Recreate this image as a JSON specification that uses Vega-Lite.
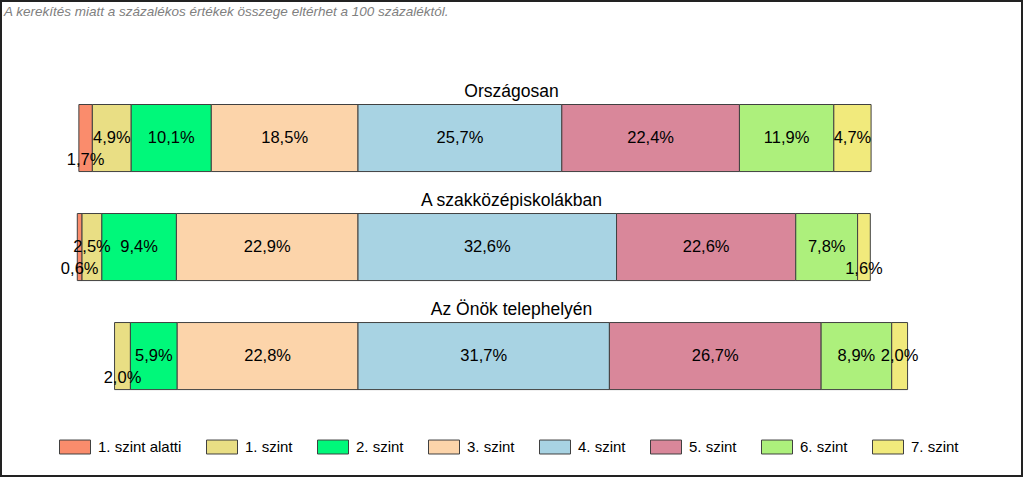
{
  "$schema": "https://vega.github.io/schema/vega-lite/v6.json",
  "width": 1021,
  "height": 475,
  "autosize": {"type": "none"},
  "padding": {"left": 1, "top": 1, "right": 2, "bottom": 2},
  "background": "white",
  "title": {
    "text": "A kerekítés miatt a  százalékos értékek összege eltérhet a 100 százaléktól.",
    "anchor": "start",
    "frame": "group",
    "orient": "top",
    "offset": -28,
    "dx": 3,
    "baseline": "alphabetic",
    "font": "Liberation Sans",
    "fontStyle": "italic",
    "fontWeight": "normal",
    "fontSize": 13.5,
    "color": "#808080"
  },
  "config": {
    "locale": {"number": {"decimal": ",", "thousands": " ", "grouping": [3], "currency": ["", " Ft"]}},
    "view": {"stroke": "#222222", "strokeWidth": 2},
    "font": "Liberation Sans"
  },
  "data": {
    "values": [
      {"g": "Országosan", "level": "1. szint alatti", "k": 0, "v": 0.017},
      {"g": "Országosan", "level": "1. szint", "k": 1, "v": 0.049},
      {"g": "Országosan", "level": "2. szint", "k": 2, "v": 0.101},
      {"g": "Országosan", "level": "3. szint", "k": 3, "v": 0.185},
      {"g": "Országosan", "level": "4. szint", "k": 4, "v": 0.257},
      {"g": "Országosan", "level": "5. szint", "k": 5, "v": 0.224},
      {"g": "Országosan", "level": "6. szint", "k": 6, "v": 0.119},
      {"g": "Országosan", "level": "7. szint", "k": 7, "v": 0.047},
      {"g": "A szakközépiskolákban", "level": "1. szint alatti", "k": 0, "v": 0.006},
      {"g": "A szakközépiskolákban", "level": "1. szint", "k": 1, "v": 0.025},
      {"g": "A szakközépiskolákban", "level": "2. szint", "k": 2, "v": 0.094},
      {"g": "A szakközépiskolákban", "level": "3. szint", "k": 3, "v": 0.229},
      {"g": "A szakközépiskolákban", "level": "4. szint", "k": 4, "v": 0.326},
      {"g": "A szakközépiskolákban", "level": "5. szint", "k": 5, "v": 0.226},
      {"g": "A szakközépiskolákban", "level": "6. szint", "k": 6, "v": 0.078},
      {"g": "A szakközépiskolákban", "level": "7. szint", "k": 7, "v": 0.016},
      {"g": "Az Önök telephelyén", "level": "1. szint", "k": 1, "v": 0.020},
      {"g": "Az Önök telephelyén", "level": "2. szint", "k": 2, "v": 0.059},
      {"g": "Az Önök telephelyén", "level": "3. szint", "k": 3, "v": 0.228},
      {"g": "Az Önök telephelyén", "level": "4. szint", "k": 4, "v": 0.317},
      {"g": "Az Önök telephelyén", "level": "5. szint", "k": 5, "v": 0.267},
      {"g": "Az Önök telephelyén", "level": "6. szint", "k": 6, "v": 0.089},
      {"g": "Az Önök telephelyén", "level": "7. szint", "k": 7, "v": 0.020}
    ]
  },
  "transform": [
    {"stack": "v", "groupby": ["g"], "sort": [{"field": "k", "order": "ascending"}], "as": ["s0", "s1"]},
    {"calculate": "datum.k <= 3 ? datum.v : 0", "as": "leftpart"},
    {"joinaggregate": [{"op": "sum", "field": "leftpart", "as": "L"}], "groupby": ["g"]},
    {"calculate": "datum.s0 - datum.L", "as": "xs"},
    {"calculate": "datum.s1 - datum.L", "as": "xe"},
    {"calculate": "(datum.xs + datum.xe) / 2", "as": "xm"}
  ],
  "encoding": {
    "y": {
      "field": "g",
      "type": "nominal",
      "axis": null,
      "scale": {
        "domain": ["Országosan", "A szakközépiskolákban", "Az Önök telephelyén"],
        "paddingInner": 0.385,
        "paddingOuter": 0.871,
        "align": 0.545
      }
    }
  },
  "layer": [
    {
      "mark": {"type": "bar", "stroke": "#404040", "strokeWidth": 1, "opacity": 1},
      "encoding": {
        "x": {"field": "xs", "type": "quantitative", "axis": null, "scale": {"domain": [-0.4502, 0.8373], "nice": false, "zero": false}},
        "x2": {"field": "xe"},
        "fill": {
          "field": "level",
          "type": "nominal",
          "scale": {
            "domain": ["1. szint alatti", "1. szint", "2. szint", "3. szint", "4. szint", "5. szint", "6. szint", "7. szint"],
            "range": ["#FA8C6C", "#E9DE84", "#00F87A", "#FCD4AA", "#A8D3E3", "#D9879A", "#ADF07C", "#F1EA7C"]
          },
          "legend": {
            "title": null,
            "orient": "none",
            "legendX": 58,
            "legendY": 430,
            "direction": "horizontal",
            "columns": 8,
            "symbolType": "M-1,-0.45H1V0.45H-1Z",
            "symbolSize": 961,
            "symbolStrokeColor": "#404040",
            "symbolStrokeWidth": 1,
            "symbolOpacity": 1,
            "labelFont": "Liberation Sans",
            "labelFontSize": 15,
            "labelColor": "#000000",
            "labelOffset": 7,
            "columnPadding": 22,
            "padding": 0
          }
        }
      }
    },
    {
      "transform": [{"filter": "!(datum.v < 0.021 && !(datum.g == 'Az Önök telephelyén' && datum.k == 7))"}],
      "mark": {"type": "text", "font": "Liberation Sans", "fontSize": 16.5, "color": "#000000", "baseline": "middle", "align": "center"},
      "encoding": {
        "x": {"field": "xm", "type": "quantitative"},
        "text": {"field": "v", "type": "quantitative", "format": ".1%"}
      }
    },
    {
      "transform": [{"filter": "datum.v < 0.021 && !(datum.g == 'Az Önök telephelyén' && datum.k == 7)"}],
      "mark": {"type": "text", "font": "Liberation Sans", "fontSize": 16.5, "color": "#000000", "baseline": "middle", "align": "center", "dy": 22},
      "encoding": {
        "x": {"field": "xm", "type": "quantitative"},
        "text": {"field": "v", "type": "quantitative", "format": ".1%"}
      }
    },
    {
      "transform": [{"filter": "datum.k == 4"}],
      "mark": {"type": "text", "font": "Liberation Sans", "fontSize": 17.5, "color": "#000000", "baseline": "middle", "align": "center", "dy": -46},
      "encoding": {
        "x": {"value": {"expr": "width/2"}},
        "text": {"field": "g", "type": "nominal"}
      }
    }
  ]
}
